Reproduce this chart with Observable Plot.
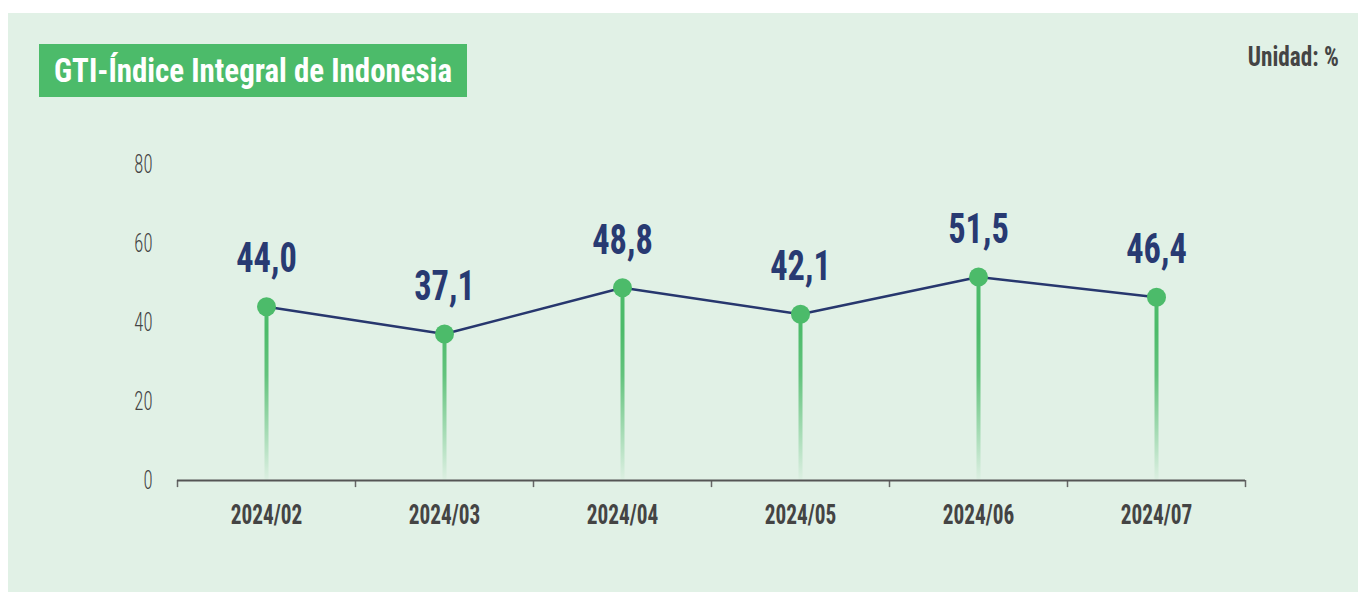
<!DOCTYPE html>
<html>
<head>
<meta charset="utf-8">
<script src="https://cdn.jsdelivr.net/npm/d3@7"></script>
<script src="https://cdn.jsdelivr.net/npm/@observablehq/plot@0.6"></script>
<style>
  html, body { margin: 0; padding: 0; background: #ffffff; }
  #wrap { position: relative; width: 1358px; height: 592px; overflow: hidden; }
  #panel { position: absolute; left: 8px; top: 13px; width: 1350px; height: 579px; background: #e1f1e6; }
  #title { position: absolute; left: 39px; top: 44px; width: 428px; height: 53px; background: #4cbb6a; }
  #title span { position: absolute; left: 15px; top: 0; line-height: 53px; color: #fff; white-space: nowrap;
    font-family: "Roboto Condensed", sans-serif; font-weight: bold; font-size: 34px; transform-origin: 0 50%; }
  #unit { position: absolute; right: 19px; top: 41px; color: #444; font-family: "Roboto Condensed", sans-serif;
    font-weight: bold; font-size: 27px; white-space: nowrap; transform-origin: 100% 50%; }
  #chart { position: absolute; left: 0; top: 0; }
</style>
</head>
<body>
<div id="wrap">
  <div id="panel"></div>
  <div id="chart"></div>
  <div id="title"><span>GTI-Índice Integral de Indonesia</span></div>
  <div id="unit">Unidad: %</div>
</div>
<script>
const months = ["2024/02", "2024/03", "2024/04", "2024/05", "2024/06", "2024/07"];
const values = [44.0, 37.1, 48.8, 42.1, 51.5, 46.4];
const labels = ["44,0", "37,1", "48,8", "42,1", "51,5", "46,4"];
const yTicks = [0, 20, 40, 60, 80];

const data = months.map((m, i) => ({ month: m, pos: i + 0.5, value: values[i], label: labels[i] }));
const boundaries = d3.range(0, months.length + 1);
const FONT = '"Roboto Condensed", sans-serif';

const plot = Plot.plot({
  width: 1358,
  height: 592,
  marginLeft: 177,
  marginRight: 113,
  marginTop: 164,
  marginBottom: 112,
  style: { background: "transparent", fontFamily: FONT, overflow: "visible" },
  x: { type: "linear", domain: [0, months.length], axis: null },
  y: { type: "linear", domain: [0, 80], axis: null },
  marks: [
    Plot.axisY({ ticks: yTicks, tickSize: 0, tickPadding: 25, fontSize: 26, fill: "#444", fontWeight: 300, label: null, ariaDescription: "ytick" }),
    Plot.ruleX(data, { x: "pos", y1: 0, y2: "value", stroke: "url(#stemGrad)", strokeWidth: 4 }),
    Plot.ruleX(boundaries, { x: d => d, y1: 0, y2: -1.8, stroke: "#666", strokeWidth: 1.5 }),
    Plot.ruleY([0], { stroke: "#555", strokeWidth: 2 }),
    Plot.text(data, { x: "pos", y: 0, text: "month", dy: 35, fontSize: 28, fontWeight: "bold", fill: "#444", ariaDescription: "month-label" }),
    Plot.line(data, { x: "pos", y: "value", stroke: "#27376e", strokeWidth: 2.5 }),
    Plot.dot(data, { x: "pos", y: "value", r: 9.5, fill: "#4cbb6a", stroke: "none" }),
    Plot.text(data, { x: "pos", y: "value", text: "label", dy: -48, fontSize: 43, fontWeight: "bold", fill: "#283a72", ariaDescription: "value-label" })
  ]
});

// gradient for stems
const svgNS = "http://www.w3.org/2000/svg";
const defs = document.createElementNS(svgNS, "defs");
defs.innerHTML = `<linearGradient id="stemGrad" gradientUnits="userSpaceOnUse" x1="0" y1="330" x2="0" y2="480">
  <stop offset="0" stop-color="#4cbb6a" stop-opacity="1"/>
  <stop offset="0.3" stop-color="#4cbb6a" stop-opacity="0.85"/>
  <stop offset="1" stop-color="#4cbb6a" stop-opacity="0.03"/>
</linearGradient>`;
plot.insertBefore(defs, plot.firstChild);
document.getElementById("chart").appendChild(plot);

// condense text horizontally to mimic the narrow typeface
function condense(desc, sx) {
  plot.querySelectorAll(`g[aria-description="${desc}"] text`).forEach(t => {
    const tr = t.getAttribute("transform");
    if (tr) {
      t.setAttribute("transform", tr + ` scale(${sx},1)`);
    } else {
      const x = +t.getAttribute("x") || 0;
      t.setAttribute("transform", `translate(${x},0) scale(${sx},1) translate(${-x},0)`);
    }
  });
}
condense("ytick", 0.72);
condense("month-label", 0.76);
condense("value-label", 0.8);

function fit(el, target) {
  const w = el.getBoundingClientRect().width;
  el.style.transform = `scaleX(${target / w})`;
}
fit(document.querySelector("#title span"), 398);
fit(document.getElementById("unit"), 91);
</script>
</body>
</html>
